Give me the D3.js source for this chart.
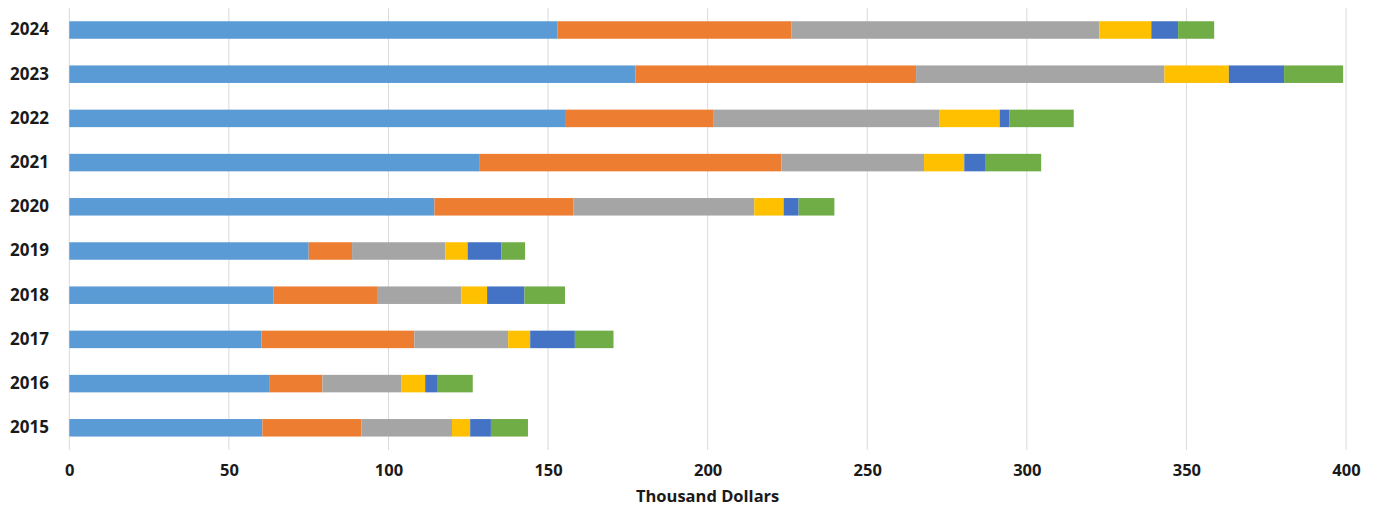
<!DOCTYPE html>
<html>
<head>
<meta charset="utf-8">
<script src="https://cdn.jsdelivr.net/npm/d3@7"></script>
<style>
  html, body { margin: 0; padding: 0; background: #fff; }
  svg { display: block; }
  text { font-family: "Open Sans", "DejaVu Sans", sans-serif; font-weight: 700; fill: #1a1a1a; }
</style>
</head>
<body>
<svg id="chart" width="1380" height="508"></svg>
<script>
const years = ["2024","2023","2022","2021","2020","2019","2018","2017","2016","2015"];
const seriesNames = ["Series 1","Series 2","Series 3","Series 4","Series 5","Series 6"];
const series1 = [153.0, 177.4, 155.3, 128.4, 114.4, 75.0, 63.9, 60.2, 62.6, 60.5];
const series2 = [73.3, 87.9, 46.4, 94.7, 43.6, 13.6, 32.5, 47.9, 16.7, 31.0];
const series3 = [96.4, 77.8, 71.0, 44.7, 56.6, 29.2, 26.4, 29.4, 24.8, 28.4];
const series4 = [16.3, 20.2, 18.8, 12.6, 9.2, 7.0, 8.1, 6.9, 7.4, 5.7];
const series5 = [8.4, 17.3, 3.1, 6.5, 4.7, 10.6, 11.7, 14.0, 3.7, 6.5];
const series6 = [11.3, 18.5, 20.1, 17.6, 11.2, 7.4, 12.7, 12.1, 11.2, 11.6];
const xTicks = [0, 50, 100, 150, 200, 250, 300, 350, 400];
const xTitle = "Thousand Dollars";
const colors = ["#5B9BD5", "#ED7D31", "#A5A5A5", "#FFC000", "#4472C4", "#70AD47"];

const allSeries = [series1, series2, series3, series4, series5, series6];
const rows = years.map((y, i) => {
  const r = { year: y };
  seriesNames.forEach((n, k) => r[n] = allSeries[k][i]);
  return r;
});
const stacked = d3.stack().keys(seriesNames)(rows);

const svg = d3.select("#chart");
const x = d3.scaleLinear().domain([0, 400]).range([69.3, 1346]);
const y = d3.scaleBand().domain(years).range([7.9, 449.9]).paddingInner(0.604).paddingOuter(0.302);

// gridlines
svg.append("g").selectAll("line").data(xTicks).join("line")
  .attr("x1", d => x(d)).attr("x2", d => x(d))
  .attr("y1", 8).attr("y2", 450)
  .attr("stroke", "#d9d9d9").attr("stroke-width", 1);

// bars
svg.append("g").selectAll("g").data(stacked).join("g")
  .attr("fill", (d, i) => colors[i])
  .selectAll("rect").data(d => d).join("rect")
  .attr("x", d => x(d[0]))
  .attr("width", d => x(d[1]) - x(d[0]))
  .attr("y", d => y(d.data.year))
  .attr("height", y.bandwidth());

// y labels
const yAxis = d3.axisLeft(y).tickSize(0).tickPadding(0);
const gy = svg.append("g").attr("transform", "translate(49,0)").call(yAxis);
gy.select(".domain").remove();
gy.selectAll("text").style("font-size", "17px").attr("fill", "#1a1a1a")
  .style("font-family", "'Open Sans', sans-serif").style("font-weight", "700");

// x labels
const xAxis = d3.axisBottom(x).tickValues(xTicks).tickSize(0).tickPadding(0);
const gx = svg.append("g").attr("transform", "translate(0,464)").call(xAxis);
gx.select(".domain").remove();
gx.selectAll("text").style("font-size", "16.5px").attr("fill", "#1a1a1a")
  .style("font-family", "'Open Sans', sans-serif").style("font-weight", "700");

svg.append("text")
  .attr("x", x(200)).attr("y", 502)
  .attr("text-anchor", "middle")
  .style("font-size", "16.5px")
  .text(xTitle);
</script>
</body>
</html>
